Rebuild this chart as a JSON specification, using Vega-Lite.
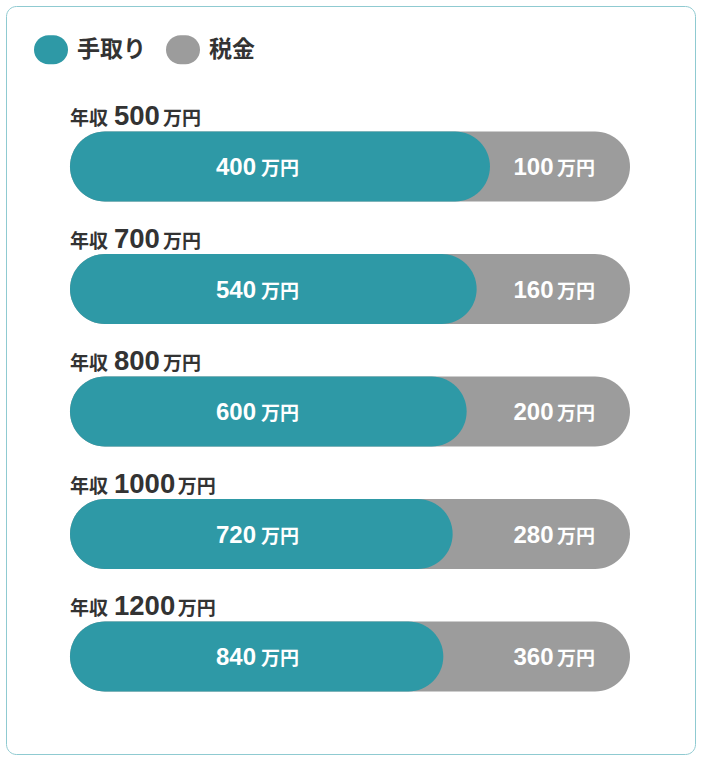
{
  "$schema": "https://vega.github.io/schema/vega-lite/v6.json",
  "width": 689,
  "height": 748,
  "padding": 6,
  "autosize": {"type": "none"},
  "background": "#ffffff",
  "config": {
    "view": {"stroke": "#8fcad1", "strokeWidth": 1, "cornerRadius": 10},
    "text": {"font": "Noto Sans CJK JP", "fontWeight": "bold"},
    "legend": {
      "orient": "none",
      "legendX": 28,
      "legendY": 26.5,
      "direction": "horizontal",
      "padding": 0,
      "symbolType": "M -0.147,-0.853 L 0.147,-0.853 A 0.853,0.853 0 0 1 0.147,0.853 L -0.147,0.853 A 0.853,0.853 0 0 1 -0.147,-0.853 Z",
      "symbolSize": 1156,
      "symbolStrokeWidth": 0,
      "symbolOpacity": 1,
      "labelFont": "Noto Sans CJK JP",
      "labelFontWeight": "bold",
      "labelFontSize": 23,
      "labelColor": "#333333",
      "labelOffset": 9,
      "columnPadding": 20
    }
  },
  "data": {
    "values": [
      {"row": 500, "part": "手取り", "amount": 400},
      {"row": 500, "part": "税金", "amount": 100},
      {"row": 700, "part": "手取り", "amount": 540},
      {"row": 700, "part": "税金", "amount": 160},
      {"row": 800, "part": "手取り", "amount": 600},
      {"row": 800, "part": "税金", "amount": 200},
      {"row": 1000, "part": "手取り", "amount": 720},
      {"row": 1000, "part": "税金", "amount": 280},
      {"row": 1200, "part": "手取り", "amount": 840},
      {"row": 1200, "part": "税金", "amount": 360}
    ]
  },
  "transform": [
    {"stack": "amount", "groupby": ["row"], "offset": "normalize", "sort": [{"field": "part", "order": "ascending"}], "as": ["s0", "s1"]}
  ],
  "encoding": {
    "y": {
      "field": "row",
      "type": "nominal",
      "scale": {"type": "band", "domain": [500, 700, 800, 1000, 1200], "range": [99.25, 711.75], "paddingInner": 0, "paddingOuter": 0},
      "axis": null
    }
  },
  "layer": [
    {
      "transform": [
        {"aggregate": [{"op": "min", "field": "s0", "as": "lo"}, {"op": "max", "field": "s1", "as": "hi"}], "groupby": ["row"]}
      ],
      "mark": {"type": "bar", "height": 70, "cornerRadius": 35, "xOffset": -46.7, "x2Offset": 46.7, "color": "#9c9c9c"},
      "encoding": {
        "x": {"field": "lo", "type": "quantitative", "scale": {"domain": [0, 1], "range": [110.7, 577.3], "zero": false, "nice": false}, "axis": null},
        "x2": {"field": "hi"}
      }
    },
    {
      "transform": [{"filter": "datum.part === '手取り'"}],
      "mark": {"type": "bar", "height": 70, "cornerRadius": 35, "xOffset": -46.7},
      "encoding": {
        "x": {"field": "s0", "type": "quantitative"},
        "x2": {"field": "s1"},
        "color": {
          "field": "part",
          "type": "nominal",
          "scale": {"domain": ["手取り", "税金"], "range": ["#2e99a6", "#9c9c9c"]},
          "legend": {
            "title": null,
            "encode": {
              "symbols": {
                "update": {"fill": {"signal": "datum.value === '手取り' ? '#5aadb8' : '#9c9c9c'"}}
              }
            }
          }
        }
      }
    },
    {
      "transform": [{"filter": "datum.part === '手取り'"}],
      "mark": {"type": "text", "align": "left", "baseline": "alphabetic", "dy": -41.5, "dx": -46.7, "fontSize": 19, "color": "#333333"},
      "encoding": {
        "x": {"field": "s0", "type": "quantitative"},
        "text": {"value": "年収"}
      }
    },
    {
      "transform": [{"filter": "datum.part === '手取り'"}],
      "mark": {"type": "text", "align": "left", "baseline": "alphabetic", "dy": -41.5, "dx": -2.7, "fontSize": 27.5, "font": "Liberation Sans", "color": "#333333"},
      "encoding": {
        "x": {"field": "s0", "type": "quantitative"},
        "text": {"field": "row", "type": "quantitative", "format": "d"}
      }
    },
    {
      "transform": [{"filter": "datum.part === '手取り' && datum.row < 1000"}],
      "mark": {"type": "text", "align": "left", "baseline": "alphabetic", "dy": -41.5, "dx": 46.3, "fontSize": 19, "color": "#333333"},
      "encoding": {
        "x": {"field": "s0", "type": "quantitative"},
        "text": {"value": "万円"}
      }
    },
    {
      "transform": [{"filter": "datum.part === '手取り' && datum.row >= 1000"}],
      "mark": {"type": "text", "align": "left", "baseline": "alphabetic", "dy": -41.5, "dx": 61, "fontSize": 19, "color": "#333333"},
      "encoding": {
        "x": {"field": "s0", "type": "quantitative"},
        "text": {"value": "万円"}
      }
    },
    {
      "transform": [{"filter": "datum.part === '手取り'"}],
      "mark": {"type": "text", "align": "right", "baseline": "alphabetic", "dy": 8.5, "dx": 139.3, "fontSize": 24, "font": "Liberation Sans", "color": "#ffffff"},
      "encoding": {
        "x": {"field": "s0", "type": "quantitative"},
        "text": {"field": "amount", "type": "quantitative", "format": "d"}
      }
    },
    {
      "transform": [{"filter": "datum.part === '手取り'"}],
      "mark": {"type": "text", "align": "left", "baseline": "alphabetic", "dy": 8.5, "dx": 144.3, "fontSize": 19, "color": "#ffffff"},
      "encoding": {
        "x": {"field": "s0", "type": "quantitative"},
        "text": {"value": "万円"}
      }
    },
    {
      "transform": [{"filter": "datum.part === '税金'"}],
      "mark": {"type": "text", "align": "right", "baseline": "alphabetic", "dy": 8.5, "dx": -29.8, "fontSize": 24, "font": "Liberation Sans", "color": "#ffffff"},
      "encoding": {
        "x": {"field": "s1", "type": "quantitative"},
        "text": {"field": "amount", "type": "quantitative", "format": "d"}
      }
    },
    {
      "transform": [{"filter": "datum.part === '税金'"}],
      "mark": {"type": "text", "align": "left", "baseline": "alphabetic", "dy": 8.5, "dx": -26.3, "fontSize": 19, "color": "#ffffff"},
      "encoding": {
        "x": {"field": "s1", "type": "quantitative"},
        "text": {"value": "万円"}
      }
    }
  ]
}
